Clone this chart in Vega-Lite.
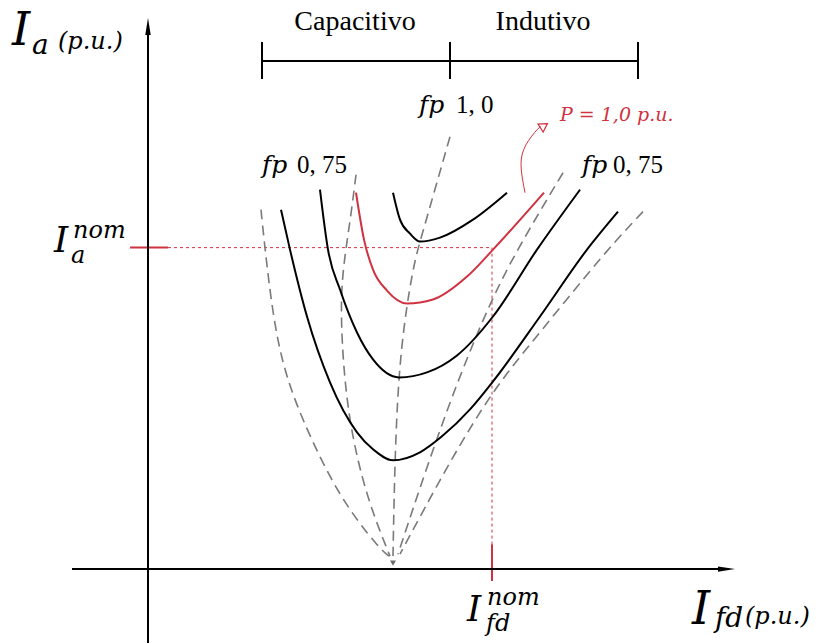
{
  "$schema": "https://vega.github.io/schema/vega-lite/v6.json",
  "width": 826,
  "height": 644,
  "padding": 0,
  "autosize": {"type": "fit", "contains": "padding"},
  "config": {"view": {"stroke": null}, "text": {"font": "Liberation Serif"}},
  "datasets": {
    "curves": [
      {"curve": "c1", "order": 1, "X": 133, "Y": 360}, {"curve": "c1", "order": 2, "X": 142, "Y": 320}, {"curve": "c1", "order": 3, "X": 159, "Y": 253}, {"curve": "c1", "order": 4, "X": 182, "Y": 187}, {"curve": "c1", "order": 5, "X": 209, "Y": 137}, {"curve": "c1", "order": 6, "X": 225, "Y": 120}, {"curve": "c1", "order": 7, "X": 245, "Y": 109}, {"curve": "c1", "order": 8, "X": 272, "Y": 117}, {"curve": "c1", "order": 9, "X": 294, "Y": 133}, {"curve": "c1", "order": 10, "X": 322, "Y": 160}, {"curve": "c1", "order": 11, "X": 345, "Y": 188}, {"curve": "c1", "order": 12, "X": 392, "Y": 253}, {"curve": "c1", "order": 13, "X": 439, "Y": 320}, {"curve": "c1", "order": 14, "X": 470, "Y": 358},
      {"curve": "c2", "order": 1, "X": 172, "Y": 380}, {"curve": "c2", "order": 2, "X": 180, "Y": 320}, {"curve": "c2", "order": 3, "X": 192, "Y": 280}, {"curve": "c2", "order": 4, "X": 209, "Y": 237}, {"curve": "c2", "order": 5, "X": 225, "Y": 210}, {"curve": "c2", "order": 6, "X": 251, "Y": 192}, {"curve": "c2", "order": 7, "X": 279, "Y": 197}, {"curve": "c2", "order": 8, "X": 309, "Y": 214}, {"curve": "c2", "order": 9, "X": 345, "Y": 253}, {"curve": "c2", "order": 10, "X": 389, "Y": 320}, {"curve": "c2", "order": 11, "X": 432, "Y": 380},
      {"curve": "c4", "order": 1, "X": 245, "Y": 377}, {"curve": "c4", "order": 2, "X": 252, "Y": 350}, {"curve": "c4", "order": 3, "X": 262, "Y": 336}, {"curve": "c4", "order": 4, "X": 272, "Y": 328}, {"curve": "c4", "order": 5, "X": 292, "Y": 332}, {"curve": "c4", "order": 6, "X": 325, "Y": 350}, {"curve": "c4", "order": 7, "X": 359, "Y": 377}
    ],
    "redcurve": [
      {"order": 1, "X": 208, "Y": 377}, {"order": 2, "X": 216, "Y": 330}, {"order": 3, "X": 225, "Y": 300}, {"order": 4, "X": 239, "Y": 279}, {"order": 5, "X": 259, "Y": 266}, {"order": 6, "X": 285, "Y": 270}, {"order": 7, "X": 319, "Y": 293}, {"order": 8, "X": 345, "Y": 320}, {"order": 9, "X": 396, "Y": 377}
    ],
    "dashed": [
      {"curve": "d1", "order": 1, "X": 113, "Y": 360}, {"curve": "d1", "order": 2, "X": 117, "Y": 320}, {"curve": "d1", "order": 3, "X": 129, "Y": 220}, {"curve": "d1", "order": 4, "X": 152, "Y": 153}, {"curve": "d1", "order": 5, "X": 192, "Y": 70}, {"curve": "d1", "order": 6, "X": 232, "Y": 20}, {"curve": "d1", "order": 7, "X": 241, "Y": 13},
      {"curve": "d2", "order": 1, "X": 208, "Y": 395}, {"curve": "d2", "order": 2, "X": 202, "Y": 347}, {"curve": "d2", "order": 3, "X": 195, "Y": 303}, {"curve": "d2", "order": 4, "X": 192, "Y": 253}, {"curve": "d2", "order": 5, "X": 199, "Y": 153}, {"curve": "d2", "order": 6, "X": 219, "Y": 70}, {"curve": "d2", "order": 7, "X": 242, "Y": 13},
      {"curve": "d3", "order": 1, "X": 302, "Y": 433}, {"curve": "d3", "order": 2, "X": 272, "Y": 328}, {"curve": "d3", "order": 3, "X": 265, "Y": 303}, {"curve": "d3", "order": 4, "X": 252, "Y": 220}, {"curve": "d3", "order": 5, "X": 247, "Y": 120}, {"curve": "d3", "order": 6, "X": 245, "Y": 13},
      {"curve": "d4", "order": 1, "X": 415, "Y": 397}, {"curve": "d4", "order": 2, "X": 369, "Y": 320}, {"curve": "d4", "order": 3, "X": 342, "Y": 267}, {"curve": "d4", "order": 4, "X": 309, "Y": 187}, {"curve": "d4", "order": 5, "X": 279, "Y": 103}, {"curve": "d4", "order": 6, "X": 250, "Y": 15},
      {"curve": "d5", "order": 1, "X": 495, "Y": 358}, {"curve": "d5", "order": 2, "X": 459, "Y": 320}, {"curve": "d5", "order": 3, "X": 392, "Y": 237}, {"curve": "d5", "order": 4, "X": 345, "Y": 180}, {"curve": "d5", "order": 5, "X": 299, "Y": 103}, {"curve": "d5", "order": 6, "X": 252, "Y": 15}
    ],
    "parrow": [
      {"order": 1, "X": 377, "Y": 377}, {"order": 2, "X": 373, "Y": 405}, {"order": 3, "X": 378, "Y": 425}, {"order": 4, "X": 389, "Y": 440}, {"order": 5, "X": 393, "Y": 443}
    ]
  },
  "encoding": {
    "x": {"field": "X", "type": "quantitative", "axis": null, "scale": {"domain": [-148, 678], "nice": false, "zero": false}},
    "y": {"field": "Y", "type": "quantitative", "axis": null, "scale": {"domain": [-74, 570], "nice": false, "zero": false}}
  },
  "layer": [
    {
      "data": {"values": [
        {"X": 20, "Y": 322, "X2": 344, "Y2": 322},
        {"X": 344, "Y": 322, "X2": 344, "Y2": 25}
      ]},
      "mark": {"type": "rule", "color": "#d0323f", "strokeWidth": 1, "strokeDash": [3, 3]},
      "encoding": {"x2": {"field": "X2"}, "y2": {"field": "Y2"}}
    },
    {
      "data": {"values": [
        {"X": -18, "Y": 322, "X2": 20, "Y2": 322},
        {"X": 344, "Y": 25, "X2": 344, "Y2": -12}
      ]},
      "mark": {"type": "rule", "color": "#d0323f", "strokeWidth": 2},
      "encoding": {"x2": {"field": "X2"}, "y2": {"field": "Y2"}}
    },
    {
      "data": {"name": "dashed"},
      "mark": {"type": "line", "interpolate": "basis", "color": "#7a7a7a", "strokeWidth": 1.6, "strokeDash": [10, 6]},
      "encoding": {"detail": {"field": "curve"}, "order": {"field": "order"}}
    },
    {
      "data": {"name": "curves"},
      "mark": {"type": "line", "interpolate": "monotone", "color": "#000000", "strokeWidth": 2},
      "encoding": {"detail": {"field": "curve"}, "order": {"field": "order"}}
    },
    {
      "data": {"name": "redcurve"},
      "mark": {"type": "line", "interpolate": "monotone", "color": "#d0323f", "strokeWidth": 2},
      "encoding": {"order": {"field": "order"}}
    },
    {
      "data": {"name": "parrow"},
      "mark": {"type": "line", "interpolate": "natural", "color": "#d0323f", "strokeWidth": 1},
      "encoding": {"order": {"field": "order"}}
    },
    {
      "data": {"values": [{"X": 396, "Y": 444}]},
      "mark": {"type": "point", "shape": "triangle-up", "size": 90, "angle": 57, "filled": false, "color": "#d0323f", "strokeWidth": 1.2, "opacity": 1}
    },
    {
      "data": {"values": [
        {"X": 0, "Y": -74, "X2": 0, "Y2": 540},
        {"X": -76, "Y": 0, "X2": 578, "Y2": 0},
        {"X": 114, "Y": 509, "X2": 490, "Y2": 509},
        {"X": 114, "Y": 491, "X2": 114, "Y2": 528},
        {"X": 302, "Y": 491, "X2": 302, "Y2": 528},
        {"X": 490, "Y": 491, "X2": 490, "Y2": 528}
      ]},
      "mark": {"type": "rule", "color": "#000000", "strokeWidth": 2},
      "encoding": {"x2": {"field": "X2"}, "y2": {"field": "Y2"}}
    },
    {
      "data": {"values": [{"X": 0, "Y": 543.5}]},
      "mark": {"type": "point", "shape": "M0,-1L0.32,1L-0.32,1Z", "size": 289, "filled": true, "color": "#000000", "opacity": 1}
    },
    {
      "data": {"values": [{"X": 578.5, "Y": 0}]},
      "mark": {"type": "point", "shape": "M1,0L-1,0.32L-1,-0.32Z", "size": 289, "filled": true, "color": "#000000", "opacity": 1}
    },
    {
      "data": {"values": [{"X": 245, "Y": 6}]},
      "mark": {"type": "point", "shape": "triangle-down", "size": 35, "filled": true, "color": "#6a6a6a", "opacity": 1}
    },
    {
      "data": {"values": [{"X": 207, "Y": 540, "t": "Capacitivo"}, {"X": 395, "Y": 540, "t": "Indutivo"}]},
      "mark": {"type": "text", "fontSize": 28, "align": "center", "baseline": "alphabetic", "color": "#000000"},
      "encoding": {"text": {"field": "t"}}
    },
    {
      "data": {"values": [{"X": 271, "Y": 457, "t": "fp"}, {"X": 114, "Y": 397, "t": "fp"}, {"X": 434, "Y": 397, "t": "fp"}]},
      "mark": {"type": "text", "font": "DejaVu Serif", "fontSize": 25, "fontStyle": "italic", "align": "left", "baseline": "alphabetic", "color": "#000000"},
      "encoding": {"text": {"field": "t"}}
    },
    {
      "data": {"values": [{"X": 308, "Y": 457, "t": "1, 0"}, {"X": 149, "Y": 397, "t": "0, 75"}, {"X": 465, "Y": 397, "t": "0, 75"}]},
      "mark": {"type": "text", "fontSize": 25, "align": "left", "baseline": "alphabetic", "color": "#000000"},
      "encoding": {"text": {"field": "t"}}
    },
    {
      "data": {"values": [{"X": 412, "Y": 449, "t": "P = 1,0 p.u."}]},
      "mark": {"type": "text", "font": "DejaVu Serif", "fontSize": 19, "fontStyle": "italic", "align": "left", "baseline": "alphabetic", "color": "#d0323f"},
      "encoding": {"text": {"field": "t"}}
    },
    {
      "data": {"values": [{"X": -136, "Y": 525, "t": "I"}, {"X": 544, "Y": -55, "t": "I"}]},
      "mark": {"type": "text", "font": "DejaVu Serif", "fontSize": 46, "fontStyle": "italic", "align": "left", "baseline": "alphabetic", "color": "#000000"},
      "encoding": {"text": {"field": "t"}}
    },
    {
      "data": {"values": [{"X": -94, "Y": 318, "t": "I"}, {"X": 319, "Y": -52, "t": "I"}]},
      "mark": {"type": "text", "font": "DejaVu Serif", "fontSize": 36, "fontStyle": "italic", "align": "left", "baseline": "alphabetic", "color": "#000000"},
      "encoding": {"text": {"field": "t"}}
    },
    {
      "data": {"values": [{"X": -116, "Y": 516, "t": "a"}, {"X": 567, "Y": -58, "t": "fd"}]},
      "mark": {"type": "text", "font": "DejaVu Serif", "fontSize": 28, "fontStyle": "italic", "align": "left", "baseline": "alphabetic", "color": "#000000"},
      "encoding": {"text": {"field": "t"}}
    },
    {
      "data": {"values": [{"X": -90, "Y": 521, "t": "(p.u.)"}, {"X": 597, "Y": -55, "t": "(p.u.)"}]},
      "mark": {"type": "text", "font": "DejaVu Serif", "fontSize": 24, "fontStyle": "italic", "align": "left", "baseline": "alphabetic", "color": "#000000"},
      "encoding": {"text": {"field": "t"}}
    },
    {
      "data": {"values": [{"X": -75, "Y": 332, "t": "nom"}, {"X": 339, "Y": -36, "t": "nom"}]},
      "mark": {"type": "text", "font": "DejaVu Serif", "fontSize": 24, "fontStyle": "italic", "align": "left", "baseline": "alphabetic", "color": "#000000"},
      "encoding": {"text": {"field": "t"}}
    },
    {
      "data": {"values": [{"X": -77, "Y": 307, "t": "a"}, {"X": 338, "Y": -62, "t": "fd"}]},
      "mark": {"type": "text", "font": "DejaVu Serif", "fontSize": 24, "fontStyle": "italic", "align": "left", "baseline": "alphabetic", "color": "#000000"},
      "encoding": {"text": {"field": "t"}}
    }
  ]
}
